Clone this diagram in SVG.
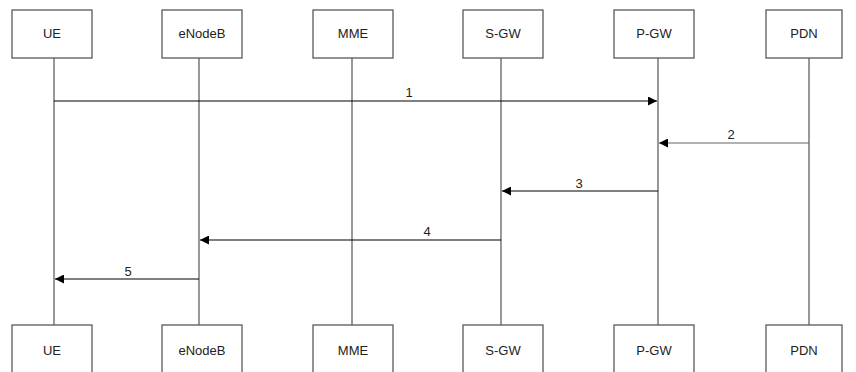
<svg xmlns="http://www.w3.org/2000/svg" width="856" height="372" viewBox="0 0 856 372">
<defs>
<marker id="ah" viewBox="0 0 10 10" refX="10" refY="5" markerWidth="12" markerHeight="9" markerUnits="userSpaceOnUse" orient="auto">
<path d="M0,0 L10,5 L0,10 z" fill="#000"/>
</marker>
<style>
.box{fill:#fff;stroke:#595959;stroke-width:1.3}
.life{stroke:#7f7f7f;stroke-width:1.6;fill:none}
.msg{stroke:#000;stroke-width:1.2;fill:none;marker-end:url(#ah)}
.lbl{font-family:"Liberation Sans",Arial,sans-serif;font-size:13px;fill:#222;text-anchor:middle}
</style>
</defs>
<rect width="856" height="372" fill="#fff"/>
<g id="lifelines">
<line class="life" x1="54" y1="58" x2="54" y2="325"/>
<line class="life" x1="199" y1="58" x2="199" y2="325"/>
<line class="life" x1="352" y1="58" x2="352" y2="325"/>
<line class="life" x1="501" y1="58" x2="501" y2="325"/>
<line class="life" x1="658" y1="58" x2="658" y2="325"/>
<line class="life" x1="809" y1="58" x2="809" y2="325"/>
</g>
<g id="UE"><rect class="box" x="12" y="10" width="80" height="48"/><text class="lbl" x="52" y="38">UE</text></g>
<g id="eNodeB"><rect class="box" x="162" y="10" width="80" height="48"/><text class="lbl" x="202" y="38">eNodeB</text></g>
<g id="MME"><rect class="box" x="313" y="10" width="80" height="48"/><text class="lbl" x="353" y="38">MME</text></g>
<g id="S-GW"><rect class="box" x="463" y="10" width="80" height="48"/><text class="lbl" x="503" y="38">S-GW</text></g>
<g id="P-GW"><rect class="box" x="614" y="10" width="80" height="48"/><text class="lbl" x="654" y="38">P-GW</text></g>
<g id="PDN"><rect class="box" x="766" y="10" width="76" height="48"/><text class="lbl" x="804" y="38">PDN</text></g>
<g id="UE-bottom"><rect class="box" x="12" y="325" width="80" height="50"/><text class="lbl" x="52" y="355">UE</text></g>
<g id="eNodeB-bottom"><rect class="box" x="162" y="325" width="80" height="50"/><text class="lbl" x="202" y="355">eNodeB</text></g>
<g id="MME-bottom"><rect class="box" x="313" y="325" width="80" height="50"/><text class="lbl" x="353" y="355">MME</text></g>
<g id="S-GW-bottom"><rect class="box" x="463" y="325" width="80" height="50"/><text class="lbl" x="503" y="355">S-GW</text></g>
<g id="P-GW-bottom"><rect class="box" x="614" y="325" width="80" height="50"/><text class="lbl" x="654" y="355">P-GW</text></g>
<g id="PDN-bottom"><rect class="box" x="766" y="325" width="76" height="50"/><text class="lbl" x="804" y="355">PDN</text></g>
<g id="connectors">
<line class="msg" x1="54" y1="101" x2="657" y2="101"/>
<text class="lbl" x="409" y="97">1</text>
<line class="msg" x1="809" y1="143" x2="659" y2="143" style="stroke:#666"/>
<text class="lbl" x="731" y="139">2</text>
<line class="msg" x1="658" y1="191" x2="502" y2="191"/>
<text class="lbl" x="579" y="188">3</text>
<line class="msg" x1="501" y1="240" x2="200" y2="240"/>
<text class="lbl" x="427" y="236">4</text>
<line class="msg" x1="199" y1="279" x2="55" y2="279"/>
<text class="lbl" x="128" y="276">5</text>
</g>
</svg>
